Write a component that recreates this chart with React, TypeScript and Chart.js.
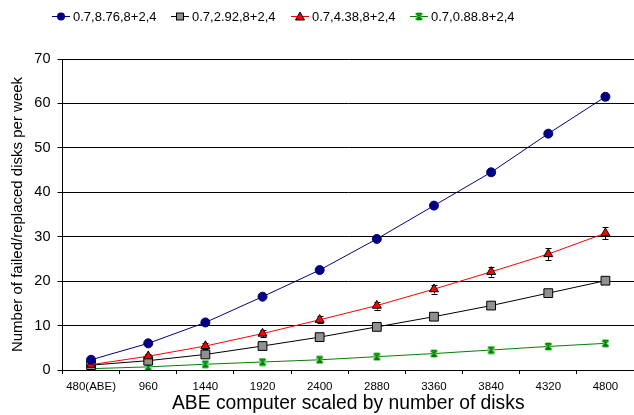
import React, { useEffect, useRef } from 'react';
import { Chart, registerables } from 'chart.js';

Chart.register(...registerables);

const categories = ['480(ABE)', '960', '1440', '1920', '2400', '2880', '3360', '3840', '4320', '4800'];
const seriesNames = ['0.7,8.76,8+2,4', '0.7,2.92,8+2,4', '0.7,4.38,8+2,4', '0.7,0.88.8+2,4'];
const blueVals = [2.3, 6.0, 10.7, 16.5, 22.5, 29.5, 37.0, 44.5, 53.2, 61.5];
const grayVals = [1.1, 2.1, 3.5, 5.4, 7.4, 9.7, 12.0, 14.5, 17.3, 20.1];
const redVals = [1.2, 3.1, 5.4, 8.2, 11.3, 14.5, 18.2, 22.1, 26.1, 30.8];
const greenVals = [0.3, 0.7, 1.3, 1.8, 2.3, 3.0, 3.7, 4.5, 5.3, 6.0];
const blueErr = [0.2, 0.2, 0.3, 0.3, 0.3, 0.4, 0.4, 0.5, 0.6, 0.7];
const redErr = [0.3, 0.6, 0.6, 0.7, 0.8, 0.9, 1.0, 1.1, 1.3, 1.4];
const yTicks = [0, 10, 20, 30, 40, 50, 60, 70];

const FONT = 'Liberation Sans, Arial, sans-serif';

function makeStar(): HTMLCanvasElement {
  const c = document.createElement('canvas');
  c.width = 9;
  c.height = 9;
  const ctx = c.getContext('2d')!;
  const draw = () => {
    ctx.beginPath();
    ctx.moveTo(1.5, 1.5); ctx.lineTo(7.5, 7.5);
    ctx.moveTo(7.5, 1.5); ctx.lineTo(1.5, 7.5);
    ctx.moveTo(4.5, 1); ctx.lineTo(4.5, 8);
    ctx.moveTo(1.5, 1.5); ctx.lineTo(7.5, 1.5);
    ctx.moveTo(1.5, 7.5); ctx.lineTo(7.5, 7.5);
    ctx.stroke();
  };
  ctx.strokeStyle = '#7fe07f';
  ctx.lineWidth = 2.5;
  draw();
  ctx.strokeStyle = '#008000';
  ctx.lineWidth = 1.2;
  draw();
  return c;
}

export default function App() {
  const ref = useRef<HTMLCanvasElement>(null);
  useEffect(() => {
    const star = makeStar();
    const errs: (number[] | null)[] = [blueErr, null, redErr, null];

    const errorBars = {
      id: 'errorBars',
      beforeDatasetsDraw(chart: any) {
        const ctx = chart.ctx;
        const y = chart.scales.y;
        ctx.save();
        ctx.strokeStyle = '#000';
        ctx.lineWidth = 1;
        chart.data.datasets.forEach((ds: any, i: number) => {
          const e = errs[i];
          if (!e) return;
          const meta = chart.getDatasetMeta(i);
          meta.data.forEach((pt: any, j: number) => {
            const v = ds.data[j];
            const top = y.getPixelForValue(v + e[j]);
            const bot = y.getPixelForValue(v - e[j]);
            const x = Math.round(pt.x) + 0.5;
            ctx.beginPath();
            ctx.moveTo(x, top); ctx.lineTo(x, bot);
            ctx.moveTo(x - 3, Math.round(top) + 0.5); ctx.lineTo(x + 3, Math.round(top) + 0.5);
            ctx.moveTo(x - 3, Math.round(bot) + 0.5); ctx.lineTo(x + 3, Math.round(bot) + 0.5);
            ctx.stroke();
          });
        });
        ctx.restore();
      },
    };

    const legendPlugin = {
      id: 'customLegend',
      afterDraw(chart: any) {
        const ctx = chart.ctx;
        const items = [
          { x: 52, color: '#000080', style: 'circle' },
          { x: 171, color: '#000000', style: 'rect' },
          { x: 291, color: '#ff0000', style: 'triangle' },
          { x: 410, color: '#008000', style: 'star' },
        ];
        const yy = 16;
        ctx.save();
        items.forEach((it, i) => {
          ctx.strokeStyle = it.color;
          ctx.lineWidth = 1;
          ctx.beginPath();
          ctx.moveTo(it.x, yy + 0.5);
          ctx.lineTo(it.x + 18, yy + 0.5);
          ctx.stroke();
          const cx = it.x + 9;
          if (it.style === 'circle') {
            ctx.fillStyle = '#000080';
            ctx.beginPath();
            ctx.arc(cx, yy + 0.5, 4, 0, Math.PI * 2);
            ctx.fill();
          } else if (it.style === 'rect') {
            ctx.fillStyle = '#909090';
            ctx.strokeStyle = '#000';
            ctx.fillRect(cx - 3.5, yy - 3, 7, 7);
            ctx.strokeRect(cx - 3.5, yy - 3, 7, 7);
          } else if (it.style === 'triangle') {
            ctx.fillStyle = '#ff0000';
            ctx.strokeStyle = '#000';
            ctx.beginPath();
            ctx.moveTo(cx, yy - 4);
            ctx.lineTo(cx + 4.5, yy + 4);
            ctx.lineTo(cx - 4.5, yy + 4);
            ctx.closePath();
            ctx.fill();
            ctx.stroke();
          } else {
            ctx.drawImage(star, cx - 4.5, yy - 4);
          }
          ctx.fillStyle = '#000';
          ctx.font = `13px ${FONT}`;
          ctx.textBaseline = 'middle';
          ctx.textAlign = 'left';
          ctx.fillText(seriesNames[i], it.x + 21, yy + 1);
        });
        ctx.restore();
      },
    };

    const chart = new Chart(ref.current!, {
      type: 'line',
      data: {
        labels: categories,
        datasets: [
          {
            label: seriesNames[0], data: blueVals, borderColor: '#000080', backgroundColor: '#000080',
            borderWidth: 1, pointStyle: 'circle', pointRadius: 4.5, pointBorderColor: '#000080', pointBorderWidth: 1, order: 1,
          },
          {
            label: seriesNames[1], data: grayVals, borderColor: '#000000', backgroundColor: '#909090',
            borderWidth: 1, pointStyle: 'rect', pointRadius: 6.2, pointBorderColor: '#000', pointBorderWidth: 1, order: 3,
          },
          {
            label: seriesNames[2], data: redVals, borderColor: '#ff0000', backgroundColor: '#ff0000',
            borderWidth: 1, pointStyle: 'triangle', pointRadius: 5.2, pointBorderColor: '#000', pointBorderWidth: 1, order: 2,
          },
          {
            label: seriesNames[3], data: greenVals, borderColor: '#008000', backgroundColor: '#008000',
            borderWidth: 1, pointStyle: star as any, pointRadius: 5, order: 4,
          },
        ],
      },
      options: {
        animation: false,
        responsive: false,
        maintainAspectRatio: false,
        layout: { autoPadding: false, padding: { top: 59, left: 0, right: 0, bottom: 0 } },
        plugins: { legend: { display: false }, tooltip: { enabled: false } },
        scales: {
          x: {
            offset: true,
            grid: { display: true, drawOnChartArea: false, drawTicks: true, tickLength: 4, offset: true, color: '#000' },
            border: { display: true, color: '#000', width: 1 },
            ticks: { color: '#000', font: { size: 11.5, family: FONT }, padding: 6, maxRotation: 0, autoSkip: false },
            title: { display: true, text: 'ABE computer scaled by number of disks', color: '#000', font: { size: 19.3, family: FONT }, padding: { top: 0, bottom: 0 } },
            afterFit(scale: any) { scale.height = 45; scale.paddingLeft = 0; scale.paddingRight = 0; },
          },
          y: {
            min: 0, max: 70,
            afterBuildTicks(scale: any) { scale.ticks = yTicks.map((v) => ({ value: v })); },
            grid: { color: '#000', lineWidth: 1, drawTicks: true, tickLength: 5 },
            border: { display: true, color: '#000', width: 1 },
            ticks: { color: '#000', font: { size: 14.5, family: FONT }, padding: 7 },
            title: { display: true, text: 'Number of failed/replaced disks per week', color: '#000', font: { size: 15, family: FONT }, padding: { top: 9, bottom: 0 } },
            afterFit(scale: any) { scale.width = 62.5; scale.paddingTop = 0; scale.paddingBottom = 0; },
          },
        },
      },
      plugins: [errorBars, legendPlugin],
    });
    return () => chart.destroy();
  }, []);
  return (
    <div style={{ position: 'absolute', left: 0, top: 0, width: 634, height: 415, background: '#fff' }}>
      <canvas ref={ref} width={634} height={415} style={{ display: 'block' }} />
    </div>
  );
}
